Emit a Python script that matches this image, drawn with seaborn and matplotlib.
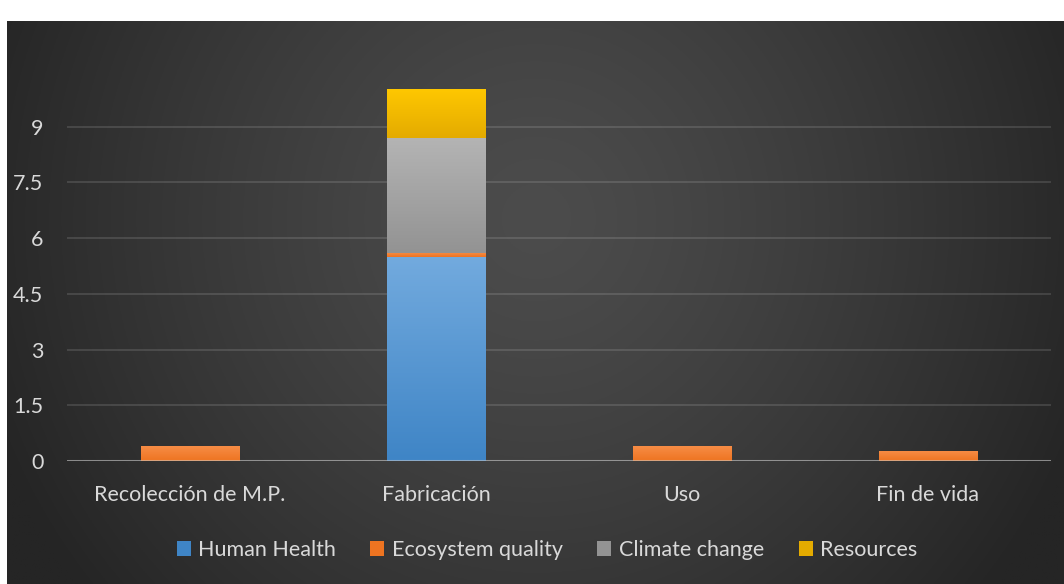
import numpy as np
import pandas as pd
import matplotlib
matplotlib.use("Agg")
import matplotlib.pyplot as plt
import matplotlib.colors as mcolors
from matplotlib.patches import Patch
import seaborn as sns

# Life-cycle stages and impact categories
stages = ["Recolección de M.P.", "Fabricación", "Uso", "Fin de vida"]
series = ["Human Health", "Ecosystem quality", "Climate change", "Resources"]
human_health = [0.0, 5.48, 0.0, 0.0]
ecosystem_quality = [0.41, 0.12, 0.41, 0.27]
climate_change = [0.0, 3.10, 0.0, 0.0]
resources = [0.0, 1.32, 0.0, 0.0]
y_ticks = [0, 1.5, 3, 4.5, 6, 7.5, 9]
y_tick_labels = ["0", "1.5", "3", "4.5", "6", "7.5", "9"]

# (top colour, bottom colour) for each series' vertical gradient
gradients = {
    "Human Health": ("#72aade", "#3f85c6"),
    "Ecosystem quality": ("#f78e48", "#ee7421"),
    "Climate change": ("#b4b4b4", "#939393"),
    "Resources": ("#ffc800", "#e4ab00"),
}

sns.set_theme(style="white")
plt.rcParams["font.family"] = ["Lato", "DejaVu Sans"]

W, H = 1064, 584
fig = plt.figure(figsize=(W / 100, H / 100), dpi=100, facecolor="white")

# Dark radial-gradient chart area
bg = fig.add_axes([7 / W, 0, (W - 7) / W, (H - 21) / H], zorder=-5)
ny, nx = 300, 560
yy, xx = np.mgrid[0:ny, 0:nx]
cx, cy = nx * 0.50, ny * 0.35
d = np.sqrt(((xx - cx) / (nx * 0.55)) ** 2 + ((yy - cy) / (ny * 1.05)) ** 2)
d = np.clip(d, 0, 1) ** 1.3
c_in = np.array([0x4c, 0x4c, 0x4c]) / 255
c_out = np.array([0x25, 0x25, 0x25]) / 255
img = c_in[None, None, :] * (1 - d[..., None]) + c_out[None, None, :] * d[..., None]
bg.imshow(img, aspect="auto", extent=(0, 1, 0, 1), origin="upper")
bg.set_axis_off()

ax = fig.add_axes([67 / W, (H - 461) / H, (1051 - 67) / W, (461 - 71) / H])
ax.set_facecolor("none")

df = pd.DataFrame({
    "stage": stages,
    "Human Health": human_health,
    "Ecosystem quality": ecosystem_quality,
    "Climate change": climate_change,
    "Resources": resources,
})

bottom = np.zeros(len(stages))
segments = []
for name in series:
    vals = df[name].to_numpy()
    n_before = len(ax.patches)
    sns.barplot(data=df, x="stage", y=name, order=stages, bottom=bottom,
                color=gradients[name][1], width=0.4, saturation=1,
                linewidth=0, errorbar=None, ax=ax, zorder=2)
    for p, v in zip(ax.patches[n_before:], vals):
        segments.append((p, name, v))
    bottom = bottom + vals

# Vertical gradient fill for every bar segment
for p, name, v in segments:
    if v <= 0:
        p.set_visible(False)
        continue
    x0, y0 = p.get_x(), p.get_y()
    x1, y1 = x0 + p.get_width(), y0 + p.get_height()
    top = np.array(mcolors.to_rgb(gradients[name][0]))
    bot = np.array(mcolors.to_rgb(gradients[name][1]))
    t = np.linspace(0, 1, 64)[:, None]
    grad = (bot * (1 - t) + top * t)[:, None, :]
    im = ax.imshow(grad, extent=(x0, x1, y0, y1), origin="lower",
                   aspect="auto", zorder=3, interpolation="bilinear")
    im.set_clip_path(p)

ax.set_xlim(-0.5, len(stages) - 0.5)
ax.set_ylim(0, 10.5)
ax.set_yticks(y_ticks)
ax.set_yticklabels(y_tick_labels)

ax.yaxis.grid(True, color="#ffffff", alpha=0.12, linewidth=1.5, zorder=0)
ax.set_axisbelow(True)
ax.axhline(0, color="#c8c8c8", alpha=0.55, linewidth=2.2, zorder=4)

for s in ax.spines.values():
    s.set_visible(False)
ax.tick_params(axis="both", length=0, colors="#d9d9d9", labelsize=15.5)
ax.tick_params(axis="y", pad=17)
ax.tick_params(axis="x", pad=17)
ax.set_xlabel("")
ax.set_ylabel("")

handles = [Patch(facecolor=gradients[n][1], edgecolor="none", label=n) for n in series]
leg = fig.legend(handles=handles, loc="center", ncol=4,
                 bbox_to_anchor=(547 / W, 1 - 550 / H), frameon=False,
                 fontsize=15.5, labelcolor="#d9d9d9", handlelength=0.65,
                 handleheight=0.65, handletextpad=0.35, columnspacing=1.6)

fig.savefig("out.png", dpi=100, facecolor="white")
